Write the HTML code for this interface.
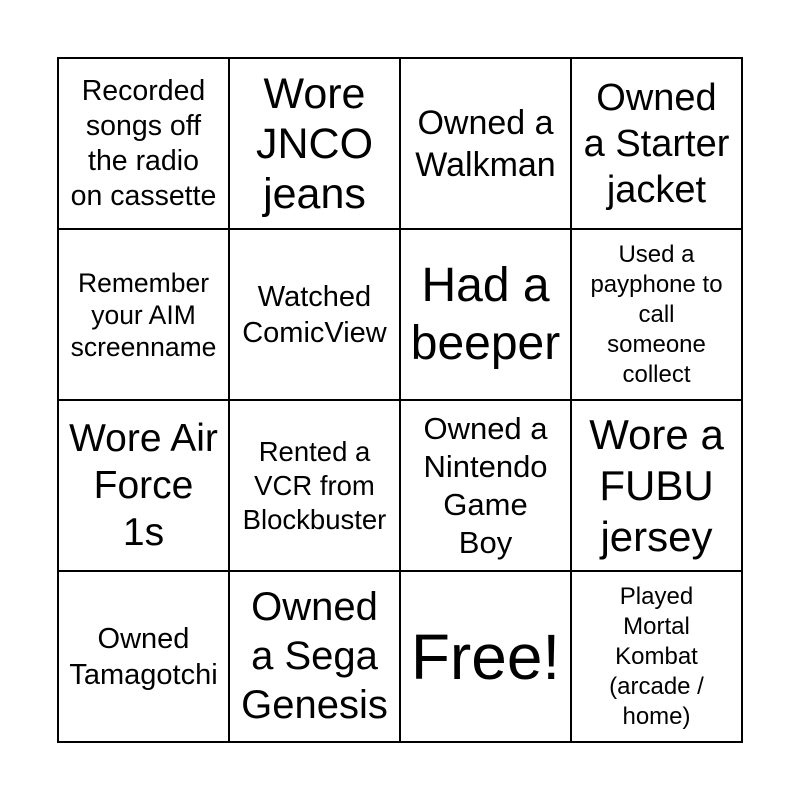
<!DOCTYPE html>
<html><head><style>
body{margin:0;width:800px;height:800px;background:#fff;font-family:"Liberation Sans",Arial,sans-serif;}
.g{position:absolute;left:57px;top:57px;width:686px;height:686px;display:grid;grid-template-columns:repeat(4,1fr);grid-template-rows:repeat(4,1fr);border:1px solid #000;box-sizing:border-box;}
.c{border:1px solid #000;display:flex;align-items:center;justify-content:center;text-align:center;color:#000;padding:0;white-space:nowrap;}
</style></head><body>
<div class="g">
<div class="c" style="font-size:28.5px;line-height:35px">Recorded<br>songs off<br>the radio<br>on cassette</div>
<div class="c" style="font-size:43px;line-height:50px">Wore<br>JNCO<br>jeans</div>
<div class="c" style="font-size:34px;line-height:42px">Owned a<br>Walkman</div>
<div class="c" style="font-size:38px;line-height:46px">Owned<br>a Starter<br>jacket</div>
<div class="c" style="font-size:26.5px;line-height:32px">Remember<br>your AIM<br>screenname</div>
<div class="c" style="font-size:29px;line-height:36px">Watched<br>ComicView</div>
<div class="c" style="font-size:48px;line-height:58px">Had a<br>beeper</div>
<div class="c" style="font-size:24px;line-height:30px">Used a<br>payphone to<br>call<br>someone<br>collect</div>
<div class="c" style="font-size:39px;line-height:47px">Wore Air<br>Force<br>1s</div>
<div class="c" style="font-size:27.5px;line-height:34px">Rented a<br>VCR from<br>Blockbuster</div>
<div class="c" style="font-size:31px;line-height:38px">Owned a<br>Nintendo<br>Game<br>Boy</div>
<div class="c" style="font-size:42px;line-height:51px">Wore a<br>FUBU<br>jersey</div>
<div class="c" style="font-size:29px;line-height:36px">Owned<br>Tamagotchi</div>
<div class="c" style="font-size:40px;line-height:49px">Owned<br>a Sega<br>Genesis</div>
<div class="c" style="font-size:64px;line-height:66px">Free!</div>
<div class="c" style="font-size:24px;line-height:30px">Played<br>Mortal<br>Kombat<br>(arcade /<br>home)</div>
</div>
</body></html>
